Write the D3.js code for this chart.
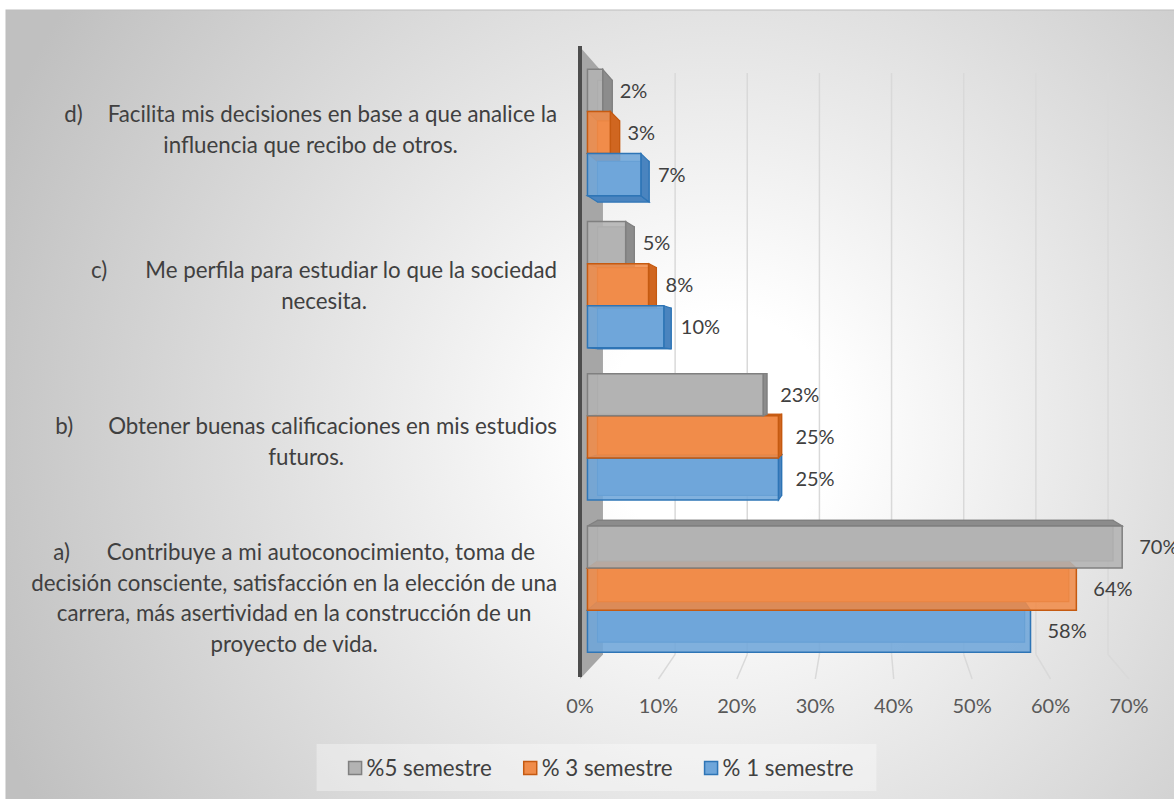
<!DOCTYPE html>
<html>
<head>
<meta charset="utf-8">
<script src="https://cdn.jsdelivr.net/npm/d3@7"></script>
<style>
  body { margin: 0; background: #fff; }
  text { font-family: Lato, "Open Sans", sans-serif; }
</style>
</head>
<body>
<svg id="chart" width="1174" height="799"></svg>
<script>
// categories, top to bottom as drawn
var categories = ["d", "c", "b", "a"];
var categoryLabels = [
  ["d)\tFacilita mis decisiones en base a que analice la", "influencia que recibo de otros."],
  ["c)\tMe perfila para estudiar lo que la sociedad", "necesita."],
  ["b)\tObtener buenas calificaciones en mis estudios", "futuros."],
  ["a)\tContribuye a mi autoconocimiento, toma de", "decisión consciente, satisfacción en la elección de una",
   "carrera, más asertividad en la construcción de un", "proyecto de vida."]
];
var series = ["%5 semestre", "% 3 semestre", "% 1 semestre"];
var sem5 = [0.02, 0.05, 0.23, 0.70];
var sem3 = [0.03, 0.08, 0.25, 0.64];
var sem1 = [0.07, 0.10, 0.25, 0.58];
var tickValues = [0, 0.1, 0.2, 0.3, 0.4, 0.5, 0.6, 0.7];

var seriesValues = [sem5, sem3, sem1];
var colors = [
  {front: "#b3b3b3", side: "#8c8c8c", edge: "#808080"},
  {front: "#f08c4a", side: "#d06620", edge: "#c55a11"},
  {front: "#6fa6da", side: "#4a84bf", edge: "#2e75b6"}
];
var tabGap = {d: 25, c: 38, b: 35, a: 37};

var svg = d3.select("#chart");

// background with radial gradient
var defs = svg.append("defs");
var grad = defs.append("radialGradient")
    .attr("id", "bg")
    .attr("gradientUnits", "userSpaceOnUse")
    .attr("cx", 720).attr("cy", 430).attr("r", 780);
grad.append("stop").attr("offset", 0).attr("stop-color", "#ffffff");
grad.append("stop").attr("offset", 0.15).attr("stop-color", "#ffffff");
grad.append("stop").attr("offset", 1).attr("stop-color", "#c0c0c0");

svg.append("rect")
    .attr("x", 6).attr("y", 10)
    .attr("width", 1200).attr("height", 820)
    .attr("fill", "url(#bg)")
    .attr("stroke", "#bdbdbd");

// scales on the front plane
var x = d3.scaleLinear().domain([0, 0.7]).range([580, 1129]);
var y = d3.scaleBand().domain(categories).range([48, 673]).paddingInner(0.17).paddingOuter(0.085);
var sub = d3.scaleBand().domain(series).range([0, y.bandwidth()]);

// perspective toward a vanishing point
var vp = [867, 372];
var plotTop = 47, plotBottom = 679;
var sFront = 1, sBarFront = 0.974, sBarBack = 0.939, sBack = 0.92;
function proj(X, Y, s) { return [vp[0] + (X - vp[0]) * s, vp[1] + (Y - vp[1]) * s]; }
function poly(pts) { return "M" + pts.map(function(p) { return p[0] + "," + p[1]; }).join("L") + "Z"; }

// back wall gridlines and floor lines
tickValues.slice(1).forEach(function(t) {
  var a = proj(x(t), plotTop, sBack), b = proj(x(t), plotBottom, sBack);
  svg.append("line")
      .attr("x1", a[0]).attr("y1", a[1]).attr("x2", b[0]).attr("y2", b[1])
      .attr("stroke", "#d9d9d9").attr("stroke-width", 1.5);
  var f = proj(x(t), plotBottom, sFront);
  svg.append("line")
      .attr("x1", f[0]).attr("y1", f[1]).attr("x2", b[0]).attr("y2", b[1])
      .attr("stroke", "#d9d9d9").attr("stroke-width", 1.5);
});

// left side wall
svg.append("path")
    .attr("d", poly([proj(x(0), plotTop, sFront), proj(x(0), plotTop, sBack),
                     proj(x(0), plotBottom, sBack), proj(x(0), plotBottom, sFront)]))
    .attr("fill", "#a6a6a6");
svg.append("line")
    .attr("x1", x(0)).attr("y1", plotTop - 1)
    .attr("x2", x(0)).attr("y2", plotBottom - 2)
    .attr("stroke", "#4d4d4d").attr("stroke-width", 4);

// bars, drawn far-to-near from the vanishing point height
var bars = [];
categories.forEach(function(c, ci) {
  series.forEach(function(s, si) {
    var y0 = y(c) + sub(s), y1 = y0 + sub.bandwidth();
    bars.push({c: c, si: si, v: seriesValues[si][ci], y0: y0, y1: y1});
  });
});
bars.sort(function(a, b) {
  return Math.abs((b.y0 + b.y1) / 2 - vp[1]) - Math.abs((a.y0 + a.y1) / 2 - vp[1]);
});

var barG = svg.append("g");
bars.forEach(function(d) {
  var col = colors[d.si];
  var X0 = x(0), X1 = x(d.v);
  var g = barG.append("g");
  // back face (seen through the front)
  g.append("path")
      .attr("d", poly([proj(X0, d.y0, sBarBack), proj(X1, d.y0, sBarBack),
                       proj(X1, d.y1, sBarBack), proj(X0, d.y1, sBarBack)]))
      .attr("fill", col.front).attr("stroke", col.edge).attr("stroke-width", 1.2);
  if (d.y0 > vp[1]) {
    g.append("path")
        .attr("d", poly([proj(X0, d.y0, sBarFront), proj(X1, d.y0, sBarFront),
                         proj(X1, d.y0, sBarBack), proj(X0, d.y0, sBarBack)]))
        .attr("fill", col.side).attr("stroke", col.edge).attr("stroke-width", 1.2);
  }
  if (d.y1 < vp[1]) {
    g.append("path")
        .attr("d", poly([proj(X0, d.y1, sBarFront), proj(X1, d.y1, sBarFront),
                         proj(X1, d.y1, sBarBack), proj(X0, d.y1, sBarBack)]))
        .attr("fill", col.side).attr("stroke", col.edge).attr("stroke-width", 1.2);
  }
  if (X1 < vp[0]) {
    g.append("path")
        .attr("d", poly([proj(X1, d.y0, sBarFront), proj(X1, d.y0, sBarBack),
                         proj(X1, d.y1, sBarBack), proj(X1, d.y1, sBarFront)]))
        .attr("fill", col.side).attr("stroke", col.edge).attr("stroke-width", 1.2);
  }
  g.append("path")
      .attr("d", poly([proj(X0, d.y0, sBarFront), proj(X1, d.y0, sBarFront),
                       proj(X1, d.y1, sBarFront), proj(X0, d.y1, sBarFront)]))
      .attr("fill", col.front).attr("fill-opacity", 0.88)
      .attr("stroke", col.edge).attr("stroke-width", 1.5);

  // data label
  var fr = proj(X1, (d.y0 + d.y1) / 2, sBarFront);
  svg.append("text")
      .attr("x", fr[0] + 17).attr("y", fr[1])
      .attr("dy", "0.36em")
      .attr("font-size", 20)
      .attr("fill", "#404040")
      .text(d3.format(".0%")(d.v));
});

// x tick labels on the front edge
svg.selectAll(".tick-label")
  .data(tickValues)
  .enter().append("text")
    .attr("class", "tick-label")
    .attr("x", function(d) { return x(d); })
    .attr("y", 706)
    .attr("dy", "0.36em")
    .attr("text-anchor", "middle")
    .attr("font-size", 20)
    .attr("fill", "#595959")
    .text(d3.format(".0%"));

// category labels, wrapped lines centred in a box that ends near the axis
var lineH = 30.7, labelRight = 557;
categories.forEach(function(c, ci) {
  var lines = categoryLabels[ci];
  var cy = y(c) + y.bandwidth() / 2 + 3;
  var g = svg.append("g");
  var texts = lines.map(function(line, li) {
    var t = g.append("text")
        .attr("y", cy + (li - (lines.length - 1) / 2) * lineH)
        .attr("dy", "0.36em")
        .attr("text-anchor", "middle")
        .attr("font-size", 22.3)
        .attr("fill", "#404040");
    var parts = line.split("\t");
    if (parts.length > 1) {
      t.append("tspan").text(parts[0]);
      t.append("tspan").attr("dx", tabGap[c]).text(parts[1]);
    } else {
      t.text(line);
    }
    return t;
  });
  var maxW = d3.max(texts, function(t) { return t.node().getBBox().width; });
  texts.forEach(function(t) { t.attr("x", labelRight - maxW / 2); });
});

// legend
var legend = svg.append("g");
var legBg = legend.append("rect")
    .attr("fill", "#ffffff").attr("fill-opacity", 0.35);
var lx = 0;
series.forEach(function(s, i) {
  legend.append("rect")
      .attr("x", lx).attr("y", -6.5)
      .attr("width", 13).attr("height", 13)
      .attr("fill", colors[i].front)
      .attr("stroke", colors[i].edge).attr("stroke-width", 1.5);
  var t = legend.append("text")
      .attr("x", lx + 18).attr("y", 0)
      .attr("dy", "0.36em")
      .attr("font-size", 22.3)
      .attr("fill", "#404040")
      .text(s);
  lx += 18 + t.node().getComputedTextLength() + 32;
});
var legW = lx - 32;
legBg.attr("x", -32).attr("y", -24).attr("width", legW + 55).attr("height", 47);
legend.attr("transform", "translate(" + (601 - legW / 2) + ",768)");
</script>
</body>
</html>
